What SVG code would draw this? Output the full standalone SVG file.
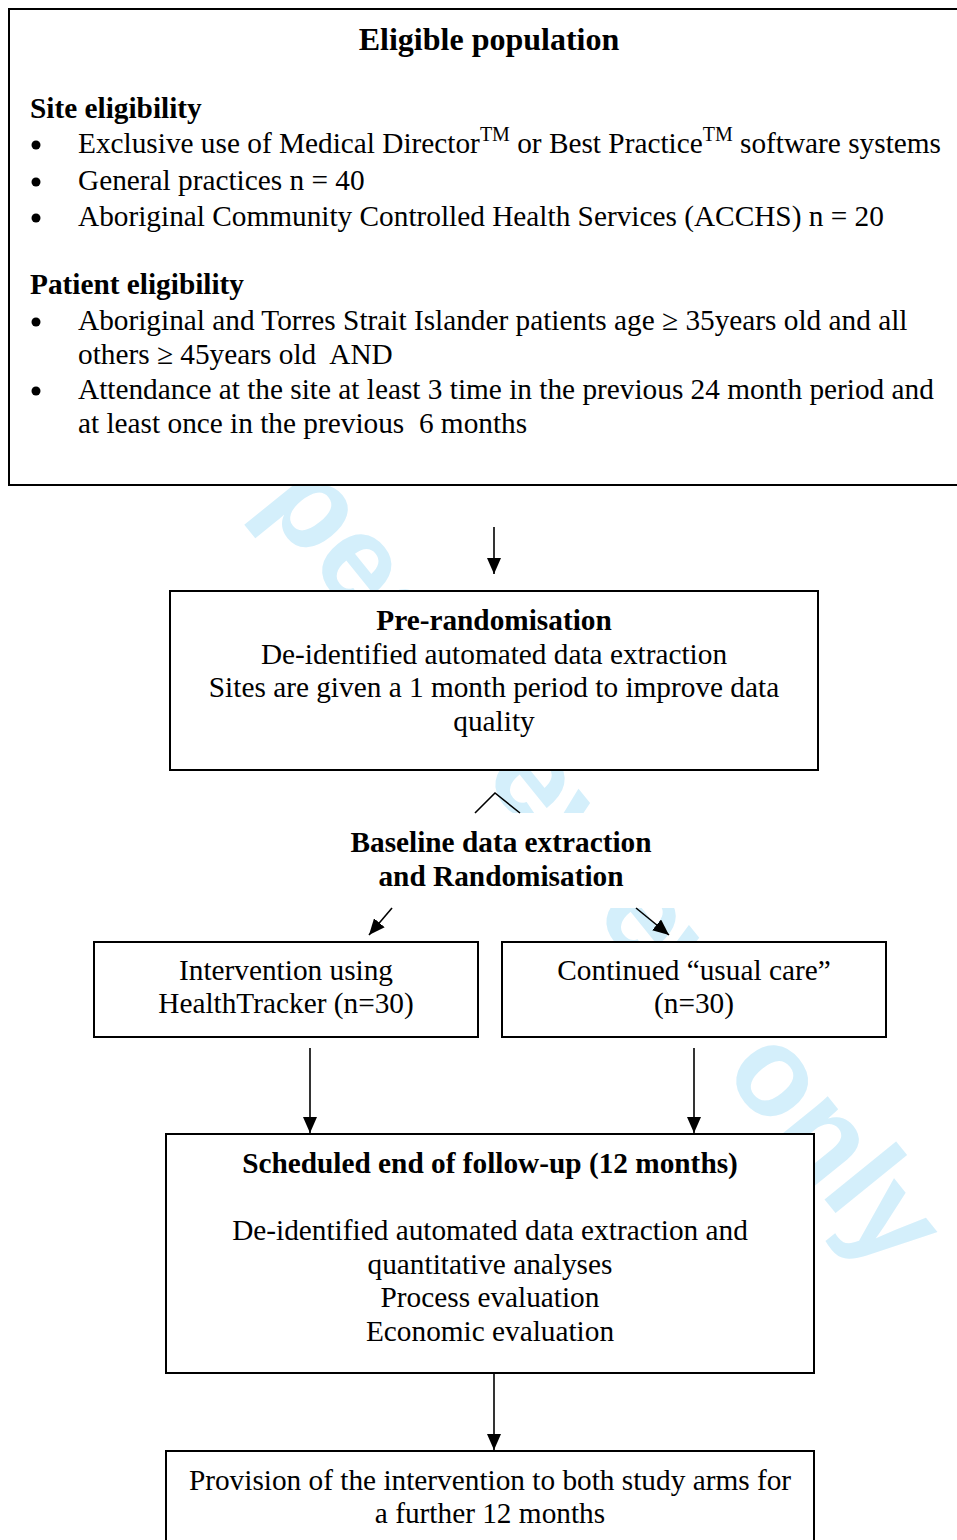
<svg xmlns="http://www.w3.org/2000/svg" width="957" height="1540" viewBox="0 0 957 1540">
<style>
.box{fill:#fff;stroke:#000;stroke-width:2}
.t{font-family:"Liberation Serif","Times New Roman",serif;font-size:29.3px;fill:#000;white-space:pre}
.b{font-weight:bold}
.c{text-anchor:middle}
.sup{font-size:20px}
.wm{font-family:"Liberation Sans",Arial,sans-serif;font-weight:bold;font-size:127px;fill:#d4effb}
.ln{stroke:#000;stroke-width:1.6;fill:none}
</style>
<defs>
<marker id="ah" viewBox="0 0 16 14" refX="16" refY="7" markerWidth="16" markerHeight="14" orient="auto" markerUnits="userSpaceOnUse"><path d="M0,0 L16,7 L0,14 z" fill="#000"/></marker>
</defs>
<rect width="957" height="1540" fill="#fff"/>
<g id="watermark"><text class="wm" transform="translate(108.4,314.8) rotate(51)">For peer review only</text></g>

<g id="eligible">
<rect class="box" x="9" y="9" width="960" height="476"/>
<text class="t b c" x="489" y="50" style="font-size:32px">Eligible population</text>
<text class="t b" x="30" y="118">Site eligibility</text>
<circle cx="36" cy="145" r="4.5"/>
<text class="t" x="78" y="153">Exclusive use of Medical Director<tspan class="sup" dy="-12">TM</tspan><tspan dy="12"> or Best Practice</tspan><tspan class="sup" dy="-12">TM</tspan><tspan dy="12"> software systems</tspan></text>
<circle cx="36" cy="182" r="4.5"/>
<text class="t" x="78" y="190">General practices n = 40</text>
<circle cx="36" cy="218" r="4.5"/>
<text class="t" x="78" y="226">Aboriginal Community Controlled Health Services (ACCHS) n = 20</text>
<text class="t b" x="30" y="294">Patient eligibility</text>
<circle cx="36" cy="322" r="4.5"/>
<text class="t" x="78" y="330">Aboriginal and Torres Strait Islander patients age ≥ 35years old and all</text>
<text class="t" x="78" y="364">others ≥ 45years old  AND</text>
<circle cx="36" cy="391" r="4.5"/>
<text class="t" x="78" y="399">Attendance at the site at least 3 time in the previous 24 month period and</text>
<text class="t" x="78" y="433">at least once in the previous  6 months</text>
</g>

<g id="prerand">
<rect class="box" x="170" y="591" width="648" height="179"/>
<text class="t b c" x="494" y="630">Pre-randomisation</text>
<text class="t c" x="494" y="664">De-identified automated data extraction</text>
<text class="t c" x="494" y="697">Sites are given a 1 month period to improve data</text>
<text class="t c" x="494" y="731">quality</text>
</g>

<g id="baseline">
<rect x="300" y="813" width="400" height="95" fill="#fff"/>
<text class="t b c" x="501" y="852">Baseline data extraction</text>
<text class="t b c" x="501" y="886">and Randomisation</text>
</g>

<g id="intervention">
<rect class="box" x="94" y="942" width="384" height="95"/>
<text class="t c" x="286" y="980">Intervention using</text>
<text class="t c" x="286" y="1013">HealthTracker (n=30)</text>
</g>

<g id="usualcare">
<rect class="box" x="502" y="942" width="384" height="95"/>
<text class="t c" x="694" y="980">Continued “usual care”</text>
<text class="t c" x="694" y="1013">(n=30)</text>
</g>

<g id="followup">
<rect class="box" x="166" y="1134" width="648" height="239"/>
<text class="t b c" x="490" y="1173">Scheduled end of follow-up (12 months)</text>
<text class="t c" x="490" y="1240">De-identified automated data extraction and</text>
<text class="t c" x="490" y="1274">quantitative analyses</text>
<text class="t c" x="490" y="1307">Process evaluation</text>
<text class="t c" x="490" y="1341">Economic evaluation</text>
</g>

<g id="provision">
<rect class="box" x="166" y="1451" width="648" height="120"/>
<text class="t c" x="490" y="1490">Provision of the intervention to both study arms for</text>
<text class="t c" x="490" y="1523">a further 12 months</text>
</g>

<g id="connectors">
<line class="ln" x1="494" y1="527" x2="494" y2="574" marker-end="url(#ah)"/>
<polyline class="ln" points="475,813 495,793 520,813"/>
<line class="ln" x1="392" y1="908" x2="369" y2="935" marker-end="url(#ah)"/>
<line class="ln" x1="636" y1="908" x2="669" y2="935" marker-end="url(#ah)"/>
<line class="ln" x1="310" y1="1048" x2="310" y2="1133" marker-end="url(#ah)"/>
<line class="ln" x1="694" y1="1048" x2="694" y2="1133" marker-end="url(#ah)"/>
<line class="ln" x1="494" y1="1374" x2="494" y2="1450" marker-end="url(#ah)"/>
</g>
</svg>
